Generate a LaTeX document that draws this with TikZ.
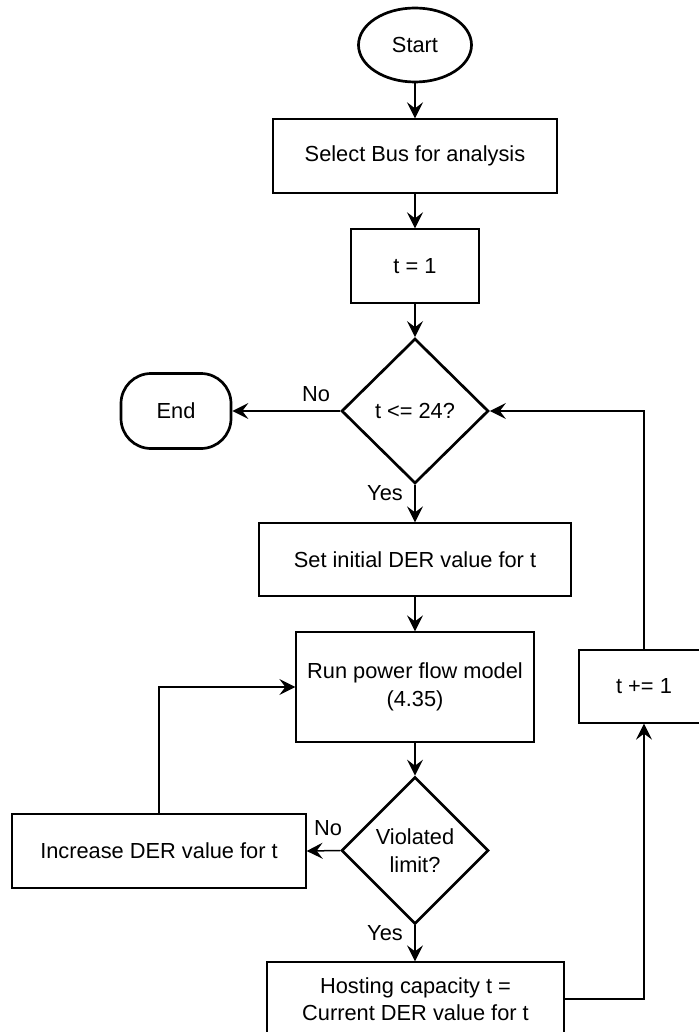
\documentclass[tikz,border=0pt]{standalone}
\usepackage{fontspec}
\setmainfont{Liberation Sans}
\usetikzlibrary{arrows.meta,shapes.geometric}
\begin{document}
\begin{tikzpicture}[x=0.5pt,y=-0.5pt,
  every node/.style={font=\fontsize{10.9}{13.7}\selectfont, align=center, inner sep=0pt},
  procbox/.style={draw, line width=0.65pt, rectangle},
  termbox/.style={draw, line width=1.35pt},
  decbox/.style={draw, diamond, line width=1.35pt},
  flow/.style={line width=0.75pt, -{Stealth[length=8pt,width=8pt,inset=3pt]}},
  flowthick/.style={flow, line width=1.1pt}
]
\useasboundingbox (0,0) rectangle (699,1032);

\node[termbox, ellipse, minimum width=56.5pt, minimum height=37pt] (start) at (415,45) {Start};
\node[procbox, minimum width=142pt, minimum height=37pt] (select) at (415,156) {Select Bus for analysis};
\node[procbox, minimum width=64pt, minimum height=37pt] (t1) at (415,266) {t = 1};
\node[decbox, minimum width=73.5pt, minimum height=72.5pt] (d1) at (415,411) {t <= 24?};
\node[termbox, rounded corners=15pt, minimum width=55pt, minimum height=37.5pt] (end) at (176,411) {End};
\node[procbox, minimum width=156pt, minimum height=36.5pt] (setinit) at (415,559.5) {Set initial DER value for t};
\node[procbox, minimum width=119pt, minimum height=55pt] (run) at (415,687) {Run power flow model\\(4.35)};
\node[decbox, minimum width=73.5pt, minimum height=73.5pt] (d2) at (415,850.5) {Violated\\limit?};
\node[procbox, minimum width=147pt, minimum height=37pt] (incr) at (159,851) {Increase DER value for t};
\node[procbox, minimum width=148.5pt, minimum height=37pt] (host) at (415.5,999) {Hosting capacity t =\\Current DER value for t};
\node[procbox, minimum width=65pt, minimum height=36.5pt] (tinc) at (644,686.5) {t += 1};

\node (nolbl1) at (316,394) {No};
\node (yeslbl1) at (385,493) {Yes};
\node (nolbl2) at (328,828) {No};
\node (yeslbl2) at (385,933) {Yes};

\draw[flowthick] (start) -- (select);
\draw[flowthick] (select) -- (t1);
\draw[flowthick] (t1) -- (d1);
\draw[flow] (d1.west) -- (end.east);
\draw[flow] (d1.south) -- (setinit.north);
\draw[flow] (setinit) -- (run);
\draw[flow] (run) -- (d2);
\draw[flow] (d2.west) -- (incr.east);
\draw[flow] (incr.north) |- (run.west);
\draw[flow] (d2.south) -- (d2.south |- host.north);
\draw[flow] (host.east) -| (tinc.south);
\draw[flow] (tinc.north) |- (d1.east);
\end{tikzpicture}
\end{document}
